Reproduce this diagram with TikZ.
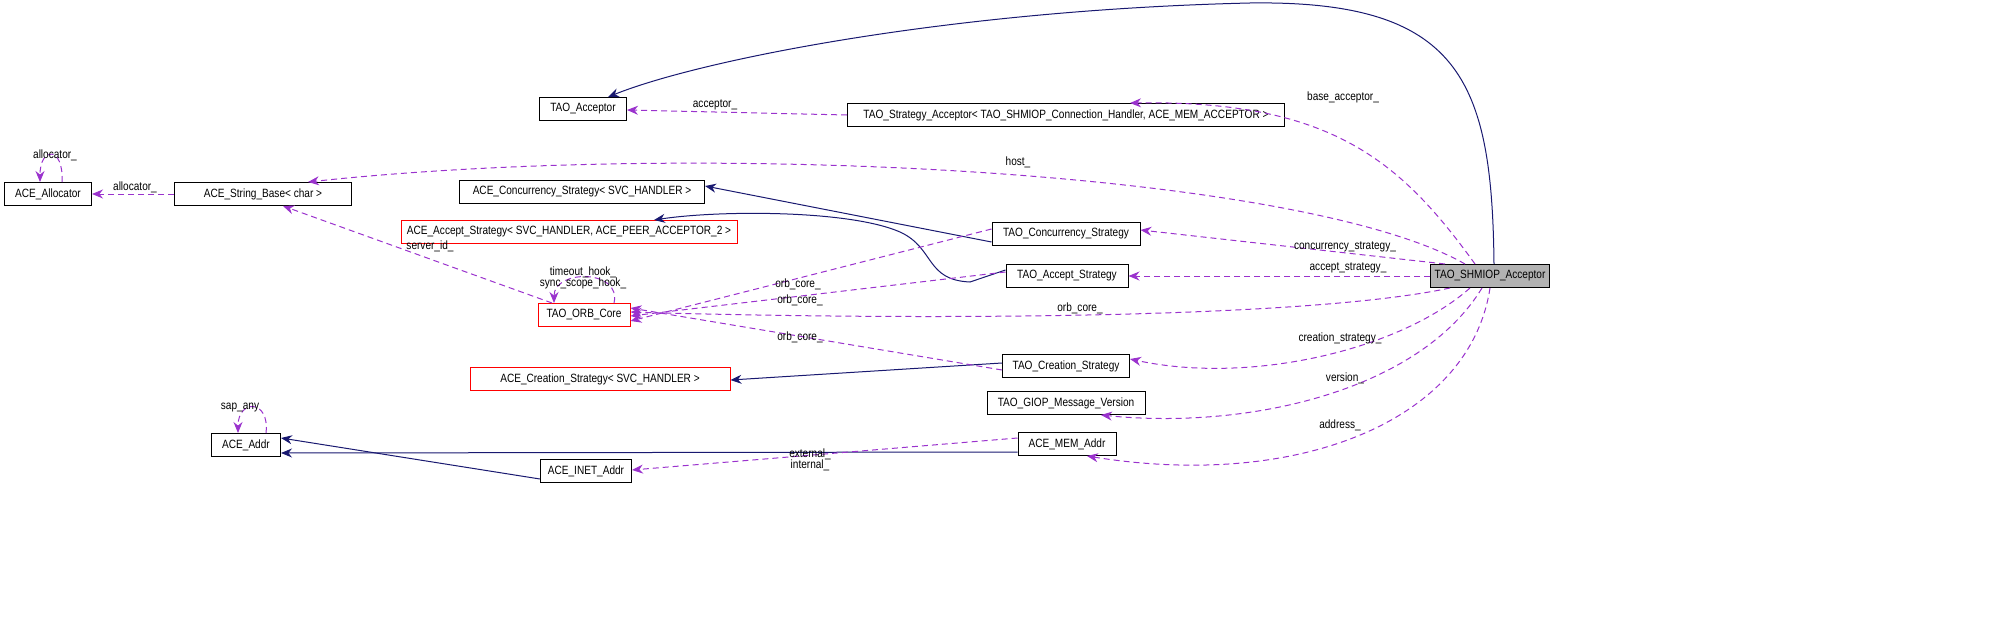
\documentclass[tikz,border=0pt]{standalone}
\usepackage{fontspec}
\setmainfont{Liberation Sans}[FakeStretch=0.84]
\usetikzlibrary{arrows.meta}
\definecolor{inh}{HTML}{191970}
\definecolor{dep}{HTML}{9A32CD}
\begin{document}
\begin{tikzpicture}[x=1pt,y=-1pt,
  box/.style={draw=black,line width=1pt,inner sep=0pt,minimum height=23pt,font=\fontsize{12}{13}\selectfont},
  rbox/.style={box,draw=red},
  gbox/.style={box,fill=black!30},
  inh/.style={draw=inh,line width=1pt,-{Stealth[length=11pt,width=9pt]}},
  dep/.style={draw=dep,line width=1pt,dash pattern=on 6pt off 4pt,-{Stealth[length=11pt,width=9pt]}},
  lab/.style={font=\fontsize{12}{13}\selectfont,inner sep=0pt,align=center}]
\useasboundingbox (0,0) rectangle (2000,618);
\node[box,minimum width=87pt] (TA) at (583,109) {TAO\_Acceptor};
\node[box,minimum width=437pt] (TSA) at (1066,115) {TAO\_Strategy\_Acceptor< TAO\_SHMIOP\_Connection\_Handler, ACE\_MEM\_ACCEPTOR >};
\node[box,minimum width=87pt] (AL) at (48,194) {ACE\_Allocator};
\node[box,minimum width=177pt] (SB) at (263,194) {ACE\_String\_Base< char >};
\node[box,minimum width=245pt] (ACS) at (582,192) {ACE\_Concurrency\_Strategy< SVC\_HANDLER >};
\node[rbox,minimum width=336pt] (AAS) at (569,232) {ACE\_Accept\_Strategy< SVC\_HANDLER, ACE\_PEER\_ACCEPTOR\_2 >};
\node[rbox,minimum width=92pt] (OC) at (584,315) {TAO\_ORB\_Core};
\node[rbox,minimum width=260pt] (ACR) at (600,379) {ACE\_Creation\_Strategy< SVC\_HANDLER >};
\node[box,minimum width=69pt] (AD) at (246,445) {ACE\_Addr};
\node[box,minimum width=91pt] (IN) at (586,471) {ACE\_INET\_Addr};
\node[box,minimum width=148pt] (TCS) at (1066,234) {TAO\_Concurrency\_Strategy};
\node[box,minimum width=122pt] (TAS) at (1067,276) {TAO\_Accept\_Strategy};
\node[box,minimum width=127pt] (TCR) at (1066,366) {TAO\_Creation\_Strategy};
\node[box,minimum width=158pt] (GV) at (1066,403) {TAO\_GIOP\_Message\_Version};
\node[box,minimum width=98pt] (MA) at (1067,444) {ACE\_MEM\_Addr};
\node[gbox,minimum width=119pt] (SH) at (1490,276) {TAO\_SHMIOP\_Acceptor};
% inheritance
\draw[inh] ([xshift=4pt]SH.north) .. controls (1492,80) and (1460,0) .. (1250,3) .. controls (950,10) and (700,60) .. ([xshift=25pt]TA.north);
\draw[inh] ([yshift=-8pt]TCS.west) -- ([yshift=6pt]ACS.east);
\draw[inh] ([yshift=6pt]TAS.west) -- (970,282) .. controls (925,280) and (935,248) .. (900,232) .. controls (850,210) and (720,210) .. ([xshift=85pt]AAS.north);
\draw[inh] ([yshift=3pt]TCR.west) -- ([yshift=-1pt]ACR.east);
\draw[inh] ([yshift=-8pt]MA.west) -- ([yshift=-8pt]AD.east);
\draw[inh] ([yshift=-8pt]IN.west) -- ([yshift=7pt]AD.east);
% dependencies
\draw[dep] ([xshift=-15pt]SH.north) .. controls (1400,160) and (1330,100) .. ([xshift=64pt]TSA.north);
\node[lab] at (1343,97) {base\_acceptor\_};
\draw[dep] (TSA.west) -- ([yshift=-1pt]TA.east);
\node[lab] at (715,105) {acceptor\_};
\draw[dep] ([xshift=-25pt]SH.north) .. controls (1300,170) and (700,140) .. ([xshift=45pt]SB.north);
\node[lab] at (1018,162) {host\_};
\draw[dep] (SB.west) -- (AL.east);
\node[lab] at (135,187) {allocator\_};
\draw[dep] ([xshift=14pt]AL.north) .. controls +(2,-36) and +(0,-36) .. ([xshift=-8pt]AL.north);
\node[lab] at (55,155) {allocator\_};
\draw[dep] ([xshift=-32pt]OC.north) -- ([xshift=20pt]SB.south);
\node[lab] at (430,246) {server\_id\_};
\draw[dep] ([xshift=30pt]OC.north) .. controls +(8,-34) and +(0,-34) .. ([xshift=-30pt]OC.north);
\node[lab] at (583,278) {timeout\_hook\_\\[-2pt]sync\_scope\_hook\_};
\draw[dep] ([yshift=5pt]TCS.west) -- ([yshift=-6pt]OC.east);
\node[lab] at (798,284) {orb\_core\_};
\draw[dep] ([yshift=4pt]TAS.west) -- ([yshift=-1pt]OC.east);
\node[lab] at (800,300) {orb\_core\_};
\draw[dep] ([xshift=-40pt]SH.south) .. controls (1300,320) and (900,320) .. ([yshift=3pt]OC.east);
\node[lab] at (1080,308) {orb\_core\_};
\draw[dep] ([yshift=-4pt]TCR.west) -- ([yshift=7pt]OC.east);
\node[lab] at (800,337) {orb\_core\_};
\draw[dep] ([xshift=-45pt]SH.north) -- ([yshift=4pt]TCS.east);
\node[lab] at (1345,247) {concurrency\_strategy\_};
\draw[dep] (SH.west) -- (TAS.east);
\node[lab] at (1348,268) {accept\_strategy\_};
\draw[dep] ([xshift=-20pt]SH.south) .. controls (1400,350) and (1250,385) .. ([yshift=7pt]TCR.east);
\node[lab] at (1340,338) {creation\_strategy\_};
\draw[dep] ([xshift=-8pt]SH.south) .. controls (1420,390) and (1250,430) .. ([xshift=35pt]GV.south);
\node[lab] at (1345,378) {version\_};
\draw[dep] ([xshift=0pt]SH.south) .. controls (1470,420) and (1300,490) .. ([xshift=20pt]MA.south);
\node[lab] at (1340,425) {address\_};
\draw[dep] ([yshift=6pt]MA.west) -- ([yshift=1pt]IN.east);
\node[lab] at (810,460) {external\_\\[-2pt]internal\_};
\draw[dep] ([xshift=20pt]AD.north) .. controls +(4,-34) and +(0,-34) .. ([xshift=-8pt]AD.north);
\node[lab] at (240,408) {sap\_any};
\end{tikzpicture}
\end{document}
